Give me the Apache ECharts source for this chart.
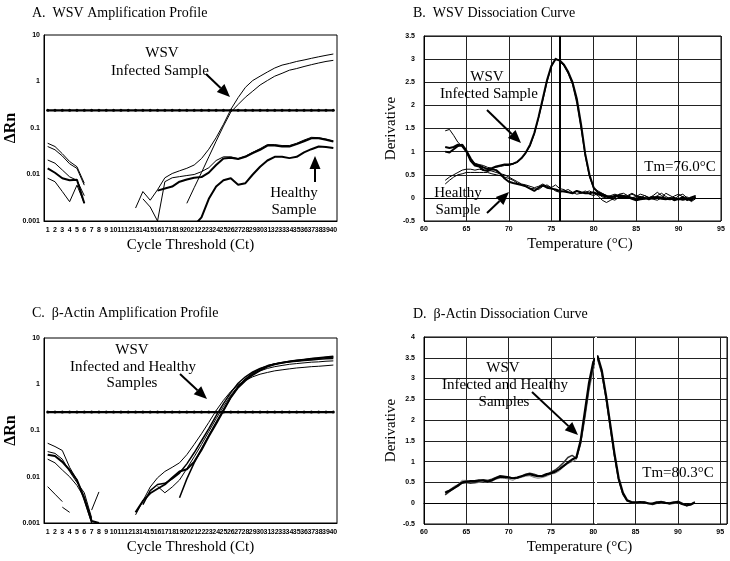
<!DOCTYPE html>
<html><head><meta charset="utf-8">
<script src="https://cdn.jsdelivr.net/npm/echarts@6/dist/echarts.min.js"></script>
<style>html,body{margin:0;padding:0;background:#fff}#c{width:730px;height:561px}</style>
</head><body><div id="c"></div>
<script>
const N = null;
// ---- Cycles (panels A, C)
const cycles = ['1','2','3','4','5','6','7','8','9','10','11','12','13','14','15','16','17','18','19','20','21','22','23','24','25','26','27','28','29','30','31','32','33','34','35','36','37','38','39','40'];
const logTicks = [0.001, 0.01, 0.1, 1, 10];
// Panel A: WSV amplification
const aThreshold = [0.24,0.24,0.24,0.24,0.24,0.24,0.24,0.24,0.24,0.24,0.24,0.24,0.24,0.24,0.24,0.24,0.24,0.24,0.24,0.24,0.24,0.24,0.24,0.24,0.24,0.24,0.24,0.24,0.24,0.24,0.24,0.24,0.24,0.24,0.24,0.24,0.24,0.24,0.24,0.24];
const aInfected1 = [N,N,N,N,N,N,N,N,N,N, N,N,0.0019,0.0043,0.0028,0.0047,0.0085,0.0105,0.012,0.0136, 0.016,0.022,0.035,0.062,0.12,0.25,0.45,0.75,1.05,1.3, 1.6,1.95,2.25,2.45,2.7,2.9,3.15,3.4,3.65,3.9];
const aInfected2 = [N,N,N,N,N,N,N,N,N,N, N,N,N,N,N,N,N,N,N,0.0024, 0.0052,0.011,0.024,0.052,0.11,0.22,0.32,0.46,0.62,0.84, 1.05,1.3,1.5,1.75,1.9,2.1,2.3,2.5,2.7,2.85];
const aHealthy1 = [N,N,N,N,N,N,N,N,N,N, N,N,N,N,N,0.0045,0.005,0.0055,0.007,0.0078, 0.0085,0.0088,0.011,0.016,0.022,0.023,0.0215,0.024,0.029,0.034, 0.042,0.042,0.04,0.04,0.045,0.052,0.06,0.06,0.056,0.051];
const aHealthy2 = [N,N,N,N,N,N,N,N,N,N, N,N,N,0.003,0.002,0.001,0.007,0.0085,0.009,0.0095, 0.01,0.0115,0.014,0.02,0.024,0.024,0.022,0.025,0.03,0.036, 0.044,0.044,0.042,0.042,0.047,0.055,0.063,0.062,0.058,0.053];
const aHealthy3 = [N,N,N,N,N,N,N,N,N,N, N,N,N,N,N,N,N,N,N,N, 0.0008,0.0012,0.003,0.0055,0.0075,0.0083,0.006,0.0065,0.01,0.0147, 0.02,0.024,0.0242,0.0225,0.024,0.03,0.035,0.04,0.039,0.037];
const aEarly1 = [0.047,0.040,0.028,0.019,0.0147,0.0065];
const aEarly2 = [0.040,0.034,0.025,0.017,0.0135,0.0059];
const aEarly3 = [0.0136,0.0109,0.0083,0.0075,0.0077,0.0024];
const aEarly4 = [0.0205,0.0175,0.0125,0.0089,0.0075,0.0035];
const aEarly5 = [0.0083,0.007,0.0043,0.0026,0.0059,0.0024];
// Panel C: beta-actin amplification
const cThreshold = [0.25,0.25,0.25,0.25,0.25,0.25,0.25,0.25,0.25,0.25,0.25,0.25,0.25,0.25,0.25,0.25,0.25,0.25,0.25,0.25,0.25,0.25,0.25,0.25,0.25,0.25,0.25,0.25,0.25,0.25,0.25,0.25,0.25,0.25,0.25,0.25,0.25,0.25,0.25,0.25];
const cRise1 = [N,N,N,N,N,N,N,N,N,N, N,N,0.0017,0.003,0.0044,0.0055,0.0068,0.0095,0.013,0.0145, 0.021,0.038,0.075,0.14,0.27,0.52,0.85,1.2,1.6,2.0, 2.4,2.7,2.9,3.1,3.25,3.4,3.55,3.7,3.85,4.0];
const cRise2 = [N,N,N,N,N,N,N,N,N,N, N,N,0.0015,0.003,0.006,0.0095,0.013,0.016,0.02,0.03, 0.05,0.085,0.15,0.27,0.45,0.7,0.98,1.22,1.45,1.65, 1.8,1.95,2.05,2.15,2.25,2.32,2.4,2.45,2.52,2.6];
const cRise3 = [N,N,N,N,N,N,N,N,N,N, N,N,N,0.0025,0.005,0.0068,0.0072,0.009,0.012,0.019, 0.033,0.06,0.11,0.21,0.38,0.66,1.05,1.45,1.85,2.2, 2.5,2.75,2.9,3.05,3.15,3.25,3.35,3.45,3.55,3.6];
const cRise4 = [N,N,N,N,N,N,N,N,N,N, N,N,N,N,N,0.0062,0.0045,0.006,0.0085,0.015, 0.027,0.05,0.095,0.18,0.33,0.58,0.92,1.3,1.65,1.95, 2.2,2.4,2.55,2.7,2.8,2.9,3.0,3.05,3.15,3.2];
const cRise5 = [N,N,N,N,N,N,N,N,N,N, N,N,N,N,N,N,N,N,0.0035,0.009, 0.02,0.04,0.078,0.15,0.28,0.52,0.88,1.3,1.75,2.15, 2.5,2.75,2.95,3.1,3.25,3.4,3.55,3.65,3.78,3.9];
const cEarly1 = [0.03,0.028,0.021,0.014,0.0085,0.0035,0.0011,0.001];
const cEarly2 = [0.053,0.045,0.037,0.016,0.0085,0.003,0.001];
const cEarly3 = [0.024,0.02,0.014,0.01,0.0065,0.0035,0.0012];
const cEarly4 = [0.035,0.032,0.024,0.013,0.0075,0.0045,0.0013];
const cEarly5 = [0.0061,0.0042,0.0029];
const cEarly6 = [N,N,0.0022,0.0017];
const cEarly7 = [N,N,N,N,N,N,0.0019,0.0047];
// ---- Temperatures (panels B, D)
const temps = [62.5,63,63.5,64,64.5,65,65.5,66,66.5,67, 67.5,68,68.5,69,69.5,70,70.5,71,71.5,72, 72.5,73,73.5,74,74.5,75,75.5,76,76.5,77, 77.5,78,78.5,79,79.5,80,80.5,81,81.5,82, 82.5,83,83.5,84,84.5,85,85.5,86,86.5,87, 87.5,88,88.5,89,89.5,90,90.5,91,91.5,92];
// Panel B: WSV dissociation
const bInfected1 = [1.0,0.98,1.05,1.12,1.15,1.02,0.85,0.72,0.7,0.66, 0.62,0.64,0.68,0.7,0.72,0.72,0.74,0.78,0.86,0.98, 1.15,1.4,1.75,2.15,2.55,2.85,3.0,2.97,2.88,2.72, 2.5,2.15,1.6,0.95,0.5,0.22,0.12,0.08,0.04,0.03, 0.02,0.06,0.04,0.02,0.0,-0.02,0.02,0.0,-0.03,0.0, 0.02,0.01,-0.02,-0.03,0.0,-0.03,0.02,-0.04,0.01,0.04];
const bInfected2 = [1.45,1.48,1.35,1.2,1.12,1.0,0.82,0.75,0.72,0.7, 0.66,0.64,0.66,0.68,0.7,0.7,0.73,0.77,0.85,0.97, 1.12,1.38,1.72,2.1,2.5,2.82,3.02,2.95,2.85,2.68, 2.45,2.05,1.5,0.9,0.45,0.2,0.15,0.1,0.05,-0.02, -0.05,0.02,0.05,0.03,0.08,0.04,0.0,0.05,0.01,-0.02, 0.05,0.1,0.03,-0.02,0.04,0.08,0.02,-0.06,-0.02,0.05];
const bHealthy1 = [1.1,1.08,1.1,1.15,1.12,1.0,0.8,0.7,0.68,0.6, 0.58,0.62,0.6,0.52,0.42,0.35,0.32,0.3,0.28,0.25, 0.2,0.15,0.22,0.27,0.22,0.2,0.18,0.15,0.14,0.12, 0.1,0.15,0.12,0.1,0.1,0.12,0.08,0.05,0.03,0.0, 0.05,0.02,0.0,0.02,-0.02,-0.05,-0.03,-0.02,0.0,0.02, 0.0,-0.02,-0.03,0.0,-0.05,-0.02,-0.04,-0.02,-0.05,0.02];
const bHealthy2 = [0.38,0.45,0.5,0.55,0.6,0.62,0.62,0.6,0.62,0.6, 0.6,0.58,0.55,0.52,0.5,0.45,0.4,0.35,0.3,0.28, 0.25,0.22,0.25,0.3,0.25,0.22,0.28,0.2,0.18,0.12, 0.1,0.15,0.1,0.12,0.15,0.1,0.05,-0.05,-0.1,-0.05, 0.0,0.08,0.1,0.05,0.1,0.05,0.02,-0.02,0.0,0.05, 0.12,0.05,0.0,-0.02,-0.05,0.05,0.08,0.0,-0.08,-0.02];
const bHealthy3 = [0.3,0.38,0.45,0.5,0.52,0.55,0.55,0.55,0.55,0.55, 0.55,0.52,0.5,0.48,0.45,0.42,0.38,0.32,0.28,0.25, 0.2,0.2,0.18,0.25,0.28,0.22,0.15,0.12,0.15,0.18, 0.12,0.08,0.1,0.15,0.08,0.05,0.1,0.02,0.0,0.05, 0.08,0.05,0.02,0.05,0.0,0.03,0.08,0.05,0.0,-0.03, -0.05,0.0,0.1,0.05,0.0,-0.05,0.0,0.02,-0.03,0.0];
const bTm = 76.0;
// Panel D: beta-actin dissociation
const dCurve1 = [0.25,0.3,0.36,0.42,0.5,0.52,0.53,0.53,0.55,0.55, 0.52,0.55,0.6,0.64,0.63,0.62,0.6,0.62,0.65,0.68, 0.7,0.67,0.65,0.66,0.7,0.72,0.76,0.82,0.9,0.98, 1.05,1.1,1.5,2.2,2.9,3.4,3.55,3.2,2.6,1.9, 1.2,0.6,0.25,0.07,0.03,0.02,0.03,0.02,0.0,-0.01, 0.02,0.03,0.01,0.0,0.02,0.03,-0.02,-0.05,-0.03,0.02];
const dCurve2 = [0.2,0.28,0.35,0.44,0.48,0.5,0.48,0.5,0.53,0.56, 0.55,0.58,0.62,0.66,0.65,0.63,0.6,0.6,0.64,0.7, 0.72,0.7,0.66,0.64,0.68,0.75,0.8,0.88,0.98,1.1, 1.15,1.08,1.45,2.1,2.8,3.3,3.5,3.15,2.55,1.85, 1.15,0.55,0.22,0.05,0.02,0.0,0.01,0.03,0.0,-0.03, 0.0,0.04,0.02,-0.02,0.0,0.05,0.0,-0.06,-0.04,0.03];
const dCurve3 = [0.28,0.32,0.4,0.45,0.55,0.55,0.5,0.48,0.5,0.52, 0.5,0.52,0.58,0.6,0.6,0.58,0.55,0.6,0.62,0.65, 0.66,0.62,0.6,0.62,0.65,0.7,0.72,0.78,0.88,0.95, 1.0,1.05,1.4,2.0,2.7,3.2,3.45,3.1,2.5,1.8, 1.1,0.55,0.2,0.06,0.04,0.02,0.0,0.01,-0.02,0.0, 0.03,0.0,0.01,0.02,-0.01,0.01,-0.03,-0.05,-0.02,0.01];
const dTm = 80.3;

const SERIF = '"Liberation Serif", "Times New Roman", serif';
const SANS = '"Liberation Sans", Arial, sans-serif';

function catLine(gi, vals, w, color) {
  return {type:'line', xAxisIndex:gi, yAxisIndex:gi, data: vals.map((v,i)=>[cycles[i], v]),
    symbol:'none', connectNulls:false, lineStyle:{width:w, color:color||'#000'}, silent:true, z:3};
}
function thrLine(gi, vals) {
  return {type:'line', xAxisIndex:gi, yAxisIndex:gi, data: vals.map((v,i)=>[cycles[i], v]),
    symbol:'circle', symbolSize:3, showSymbol:true, itemStyle:{color:'#000'}, lineStyle:{width:2.2, color:'#000'}, silent:true, z:4};
}
function tLine(gi, vals, w, color, extra) {
  return Object.assign({type:'line', xAxisIndex:gi, yAxisIndex:gi, data: vals.map((v,i)=>[temps[i], v]),
    symbol:'none', lineStyle:{width:w, color:color||'#000'}, silent:true, z:3}, extra||{});
}

const tickLbl = {fontFamily:SANS, fontSize:7, fontWeight:'bold', color:'#000'};
function catX(gi) {
  return {gridIndex:gi, type:'category', data:cycles, boundaryGap:true,
    axisLine:{lineStyle:{color:'#000'}}, axisTick:{show:false},
    axisLabel:Object.assign({interval:0, margin:6}, tickLbl),
    name:'Cycle Threshold (Ct)', nameLocation:'middle', nameGap:17,
    nameTextStyle:{fontFamily:SERIF, fontSize:15, color:'#000'}};
}
function logY(gi) {
  return {gridIndex:gi, type:'log', logBase:10, min:0.001, max:10, interval:1,
    axisLine:{show:true, lineStyle:{color:'#000'}}, axisTick:{show:false}, splitLine:{show:false}, minorSplitLine:{show:false},
    axisLabel:Object.assign({margin:4, formatter:v=>{const t=logTicks.find(x=>Math.abs(Math.log10(x)-Math.log10(v))<1e-6); return t===undefined?'':String(t);}}, tickLbl),
    name:'ΔRn', nameLocation:'middle', nameGap:24,
    nameTextStyle:{fontFamily:SERIF, fontSize:16, fontWeight:'bold', color:'#000'}};
}
function tempX(gi, max, pad) {
  return {gridIndex:gi, type:'value', min:60, max:max, interval:5,
    axisLine:{lineStyle:{color:'#000'}}, axisTick:{show:false},
    splitLine:{show:true, lineStyle:{color:'#222', width:1}},
    axisLabel:Object.assign({margin:5}, tickLbl, {formatter:v=>(v%5===0?String(v):'')}),
    name:'Temperature (°C)', nameLocation:'middle', nameGap:16,
    nameTextStyle:{fontFamily:SERIF, fontSize:15, color:'#000', padding:[0,0,0,pad]}};
}
function derivY(gi, max) {
  return {gridIndex:gi, type:'value', min:-0.5, max:max, interval:0.5,
    axisLine:{show:true, lineStyle:{color:'#000'}}, axisTick:{show:false},
    splitLine:{show:true, lineStyle:{color:'#222', width:1}},
    axisLabel:Object.assign({margin:9}, tickLbl),
    name:'Derivative', nameLocation:'middle', nameGap:25,
    nameTextStyle:{fontFamily:SERIF, fontSize:15, color:'#000'}};
}

function arrow(x1,y1,x2,y2) {
  const head=13, w=5.5, dx=x2-x1, dy=y2-y1, L=Math.hypot(dx,dy), ux=dx/L, uy=dy/L;
  const bx=x2-ux*head, by=y2-uy*head;
  return [
    {type:'line', shape:{x1:x1,y1:y1,x2:bx,y2:by}, style:{stroke:'#000', lineWidth:2}, z:10},
    {type:'polygon', shape:{points:[[x2,y2],[bx-uy*w,by+ux*w],[bx+uy*w,by-ux*w]]}, style:{fill:'#000'}, z:10}
  ];
}
function txt(x,y,s,size) {
  return {type:'text', x:x, y:y, z:10, style:{text:s, fill:'#000', font:(size||15)+'px '+SERIF,
    textAlign:'center', textVerticalAlign:'middle', align:'center', verticalAlign:'middle'}};
}
function ttl(x,y,s) {
  return {type:'text', x:x, y:y, z:10, style:{text:s, fill:'#000', font:'14px '+SERIF,
    textAlign:'left', textVerticalAlign:'middle', align:'left', verticalAlign:'middle'}};
}

const series = [
  // A
  thrLine(0, aThreshold),
  catLine(0, aInfected1, 1), catLine(0, aInfected2, 1),
  catLine(0, aHealthy1, 2), catLine(0, aHealthy2, 1), catLine(0, aHealthy3, 2),
  catLine(0, aEarly1, 1), catLine(0, aEarly2, 1), catLine(0, aEarly3, 2), catLine(0, aEarly4, 1), catLine(0, aEarly5, 1),
  // B
  tLine(1, bInfected1, 2, '#000', {markLine:{silent:true, symbol:'none', label:{show:false}, lineStyle:{color:'#000', width:2, type:'solid'}, data:[{xAxis:bTm}]}}),
  tLine(1, bInfected2, 1), tLine(1, bHealthy1, 2), tLine(1, bHealthy2, 1), tLine(1, bHealthy3, 1),
  // C
  thrLine(2, cThreshold),
  catLine(2, cRise1, 2), catLine(2, cRise2, 1), catLine(2, cRise3, 1.5), catLine(2, cRise4, 1), catLine(2, cRise5, 1.5),
  catLine(2, cEarly1, 2), catLine(2, cEarly2, 1), catLine(2, cEarly3, 1), catLine(2, cEarly4, 1), catLine(2, cEarly5, 1), catLine(2, cEarly6, 1), catLine(2, cEarly7, 1),
  // D
  tLine(3, dCurve3, 1, '#888'), tLine(3, dCurve2, 1.5, '#333'),
  tLine(3, dCurve1, 2.2, '#000', {markLine:{silent:true, symbol:'none', z:8, label:{show:false}, lineStyle:{color:'#fff', width:2, type:'solid'}, data:[{xAxis:dTm}]}})
];

const chart = echarts.init(document.getElementById('c'), null, {renderer:'canvas', width:730, height:561});
chart.setOption({
  animation:false,
  backgroundColor:'#fff',
  grid:[
    {left:44, width:293, top:35, height:186, show:true, borderColor:'#000', borderWidth:1},
    {left:424, width:297, top:36, height:185, show:true, borderColor:'#000', borderWidth:1},
    {left:44, width:293, top:338, height:185, show:true, borderColor:'#000', borderWidth:1},
    {left:424, width:304, top:337, height:187, show:true, borderColor:'#000', borderWidth:1}
  ],
  xAxis:[catX(0), tempX(1, 95, 15), catX(2), tempX(3, 95.8, 8)],
  yAxis:[logY(0), derivY(1, 3.5), logY(2), derivY(3, 4)],
  series: series,
  graphic: [].concat(
    ttl(32, 13, 'A.  WSV Amplification Profile'),
    ttl(413, 13, 'B.  WSV Dissociation Curve'),
    ttl(32, 313, 'C.  β-Actin Amplification Profile'),
    ttl(413, 314, 'D.  β-Actin Dissociation Curve'),
    txt(162, 53, 'WSV'), txt(160, 71, 'Infected Sample'), arrow(206, 74, 230, 97),
    txt(294, 193, 'Healthy'), txt(294, 210, 'Sample'), arrow(315, 182, 315, 156),
    txt(487, 77, 'WSV'), txt(489, 94, 'Infected Sample'), arrow(487, 110, 521, 143),
    txt(680, 167, 'Tm=76.0°C'),
    txt(458, 193, 'Healthy'), txt(458, 210, 'Sample'), arrow(487, 213, 509, 192),
    txt(132, 350, 'WSV'), txt(133, 367, 'Infected and Healthy'), txt(132, 383, 'Samples'), arrow(180, 374, 207, 399),
    txt(503, 368, 'WSV'), txt(505, 385, 'Infected and Healthy'), txt(504, 402, 'Samples'), arrow(532, 392, 578, 435),
    txt(678, 473, 'Tm=80.3°C')
  )
});
</script></body></html>
